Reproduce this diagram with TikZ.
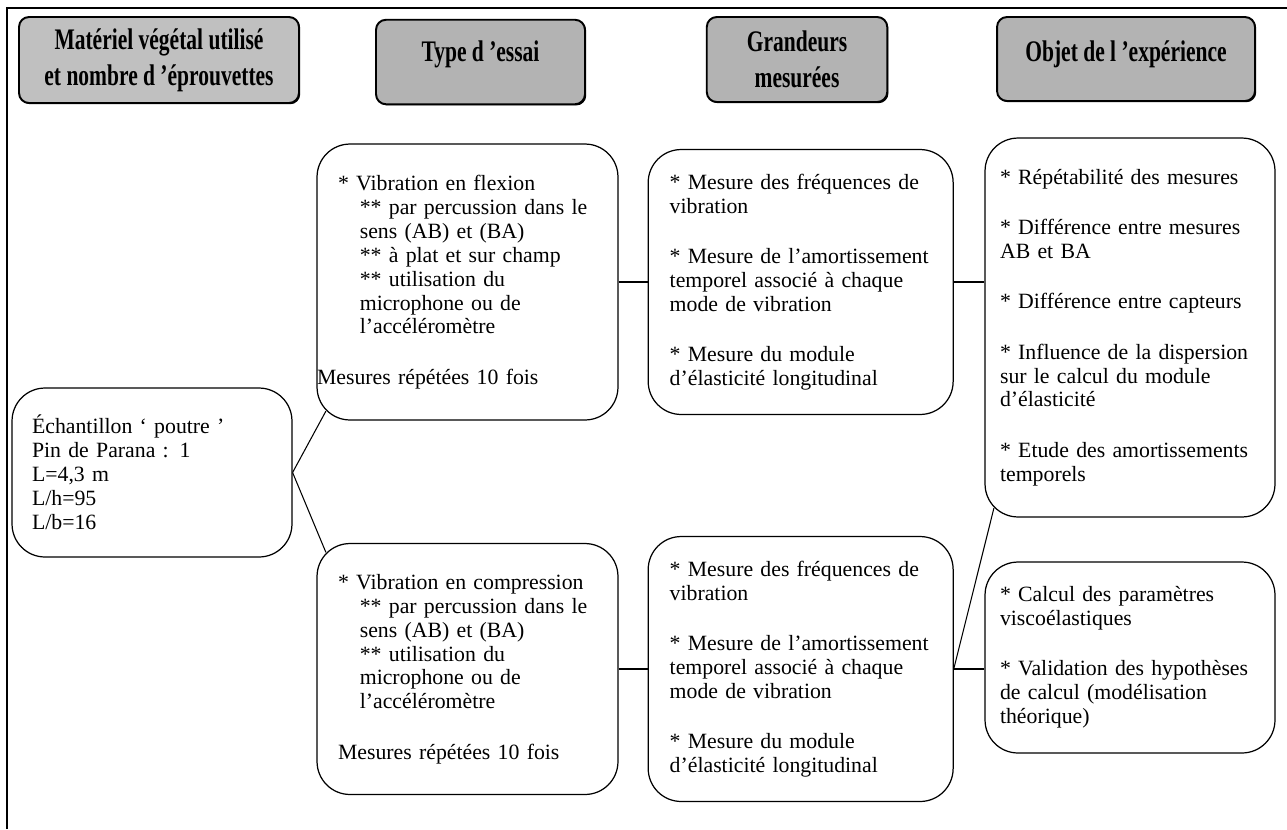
\documentclass[tikz,border=0pt]{standalone}
\usepackage{fontspec}
\setmainfont{Liberation Serif}
\newfontfamily\entete[FakeStretch=0.72]{Liberation Serif}
\usetikzlibrary{positioning,shadows}

\definecolor{grisclair}{RGB}{192,192,192}
\definecolor{gris}{RGB}{179,179,179}

\begin{document}
\begin{tikzpicture}[x=0.02cm,y=-0.02cm,
  font=\fontsize{12.4}{13.6}\selectfont,
  tete/.style={draw,line width=1.1pt,rounded corners=0.2cm,align=center,inner sep=2pt,
               font=\entete\bfseries\fontsize{17}{20.5}\selectfont,
               drop shadow={shadow xshift=0.7pt,shadow yshift=-0.7pt,fill=black,opacity=1}},
  bloc/.style={draw,line width=0.7pt,rounded corners=0.66cm,align=left,inner ysep=2pt},
  lien/.style={line width=0.6pt}]
\useasboundingbox (0,0) rectangle (1287,829);
\draw[line width=1.4pt] (7,829) -- (7,8) -- (1287,8);

\node[tete,fill=grisclair,minimum width=5.6cm,minimum height=1.72cm] (t1) at (159,60)
  {Matériel végétal utilisé\\et nombre d ’éprouvettes};
\node[tete,fill=gris,minimum width=4.18cm,minimum height=1.69cm,text depth=0.45cm] (t2) at (480.5,62)
  {Type d ’essai};
\node[tete,fill=gris,minimum width=3.61cm,minimum height=1.7cm] (t3) at (797,59.5)
  {Grandeurs\\mesurées};
\node[tete,fill=gris,minimum width=5.16cm,minimum height=1.68cm,text depth=0.33cm] (t4) at (1126,59)
  {Objet de l ’expérience};

\node[bloc,inner xsep=0.4cm,text width=4.8cm,minimum height=3.38cm] (ech) at (152,472.5)
  {Échantillon ‘ poutre ’\\Pin de Parana : 1\\L=4,3 m\\L/h=95\\L/b=16};

\node[bloc,inner xsep=0.42cm,text width=5.18cm,minimum height=5.52cm] (flex) at (467.5,282)
  {* Vibration en flexion\\
   \hspace*{1em}** par percussion dans le\\
   \hspace*{1em}sens (AB) et (BA)\\
   \hspace*{1em}** à plat et sur champ\\
   \hspace*{1em}** utilisation du\\
   \hspace*{1em}microphone ou de\\
   \hspace*{1em}l’accéléromètre\\[15pt]
   \hspace*{-0.42cm}Mesures répétées 10 fois};
\node[bloc,inner xsep=0.42cm,text width=5.18cm,minimum height=5.02cm] (comp) at (467.5,669)
  {* Vibration en compression\\
   \hspace*{1em}** par percussion dans le\\
   \hspace*{1em}sens (AB) et (BA)\\
   \hspace*{1em}** utilisation du\\
   \hspace*{1em}microphone ou de\\
   \hspace*{1em}l’accéléromètre\\[15pt]
   Mesures répétées 10 fois};

\node[bloc,inner xsep=0.43cm,text width=5.24cm,minimum height=5.3cm,right=0.58cm of flex] (gr1)
  {* Mesure des fréquences de\\vibration\\[15pt]
   * Mesure de l’amortissement\\temporel associé à chaque\\mode de vibration\\[15pt]
   * Mesure du module\\d’élasticité longitudinal};
\node[bloc,inner xsep=0.43cm,text width=5.24cm,minimum height=5.3cm,right=0.58cm of comp] (gr2)
  {* Mesure des fréquences de\\vibration\\[15pt]
   * Mesure de l’amortissement\\temporel associé à chaque\\mode de vibration\\[15pt]
   * Mesure du module\\d’élasticité longitudinal};

\node[bloc,inner xsep=0.3cm,text width=5.2cm,minimum height=7.58cm] (obj1) at (1130,327.5)
  {* Répétabilité des mesures\\[15pt]
   * Différence entre mesures\\AB et BA\\[15pt]
   * Différence entre capteurs\\[15pt]
   * Influence de la dispersion\\sur le calcul du module\\d’élasticité\\[15pt]
   * Etude des amortissements\\temporels};
\node[bloc,inner xsep=0.3cm,text width=5.2cm,minimum height=3.82cm] (obj2) at (1130,657.5)
  {* Calcul des paramètres\\viscoélastiques\\[15pt]
   * Validation des hypothèses\\de calcul (modélisation\\théorique)};

\draw[lien] (ech.east) -- ([shift={(0.19cm,0.19cm)}]flex.south west);
\draw[lien] (ech.east) -- ([shift={(0.19cm,-0.19cm)}]comp.north west);
\draw[lien] (flex) -- (gr1);
\draw[lien] (comp) -- (gr2);
\draw[lien] (gr1.east) -- (gr1.east -| obj1.west);
\draw[lien] (gr2.east) -- (gr2.east -| obj2.west);
\draw[lien] (gr2.east) -- ([shift={(0.19cm,0.19cm)}]obj1.south west);
\end{tikzpicture}
\end{document}
